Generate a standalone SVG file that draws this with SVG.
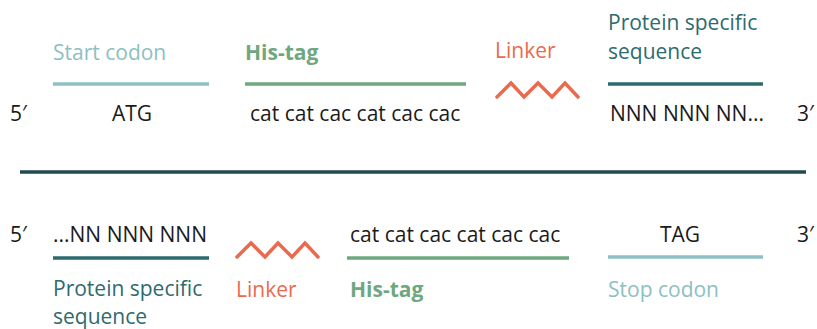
<svg xmlns="http://www.w3.org/2000/svg" width="817" height="329" viewBox="0 0 817 329">
<style>
text{font-family:"Open Sans","Noto Sans",sans-serif;font-size:21px}
.seq{fill:#1a1a1a}
.lt{fill:#8cc0c3}
.gr{fill:#6fa77f;font-weight:bold}
.or{fill:#ea6a4e}
.dk{fill:#2d6b6e}
.bar{stroke-width:3.5;fill:none}
.zz{stroke:#ea6a4e;stroke-width:3.5;fill:none;stroke-linejoin:miter;stroke-linecap:round}
</style>
<rect width="817" height="329" fill="#ffffff"/>
<g id="ends">
<text class="seq" x="10" y="121">5′</text>
<text class="seq" x="797" y="121">3′</text>
<text class="seq" x="10" y="242">5′</text>
<text class="seq" x="797" y="242">3′</text>
</g>
<g id="connectors">
<line class="bar" x1="20" y1="172" x2="806" y2="172" stroke="#1f4a52" stroke-width="4"/>
</g>
<g id="start-codon">
<text class="lt" x="53" y="60">Start codon</text>
<line class="bar" x1="53" y1="84" x2="209" y2="84" stroke="#8cc0c3"/>
<text class="seq" x="132" y="121" text-anchor="middle">ATG</text>
</g>
<g id="his-tag-top">
<text class="gr" x="245" y="60">His-tag</text>
<line class="bar" x1="245" y1="84" x2="466" y2="84" stroke="#6fa77f"/>
<text class="seq" x="250" y="121">cat cat cac cat cac cac</text>
</g>
<g id="linker-top">
<text class="or" x="495" y="58">Linker</text>
<polyline class="zz" points="497,97 511,83 524,97 538,83 552,97 565,83 578,97"/>
</g>
<g id="protein-top">
<text class="dk"><tspan x="608" y="30">Protein specific</tspan><tspan x="608" y="59">sequence</tspan></text>
<line class="bar" x1="608" y1="84" x2="763" y2="84" stroke="#2d6b6e"/>
<text class="seq" x="610" y="121">NNN NNN NN...</text>
</g>
<g id="protein-bottom">
<text class="seq" x="53" y="242">...NN NNN NNN</text>
<line class="bar" x1="53" y1="258" x2="209" y2="258" stroke="#2d6b6e"/>
<text class="dk"><tspan x="53" y="296">Protein specific</tspan><tspan x="53" y="324">sequence</tspan></text>
</g>
<g id="linker-bottom">
<polyline class="zz" points="237,257 251,243 265,257 278,243 292,257 305,243 318,257"/>
<text class="or" x="236" y="297">Linker</text>
</g>
<g id="his-tag-bottom">
<text class="seq" x="350" y="242">cat cat cac cat cac cac</text>
<line class="bar" x1="347" y1="258" x2="569" y2="258" stroke="#6fa77f"/>
<text class="gr" x="350" y="297">His-tag</text>
</g>
<g id="stop-codon">
<text class="seq" x="680" y="242" text-anchor="middle">TAG</text>
<line class="bar" x1="608" y1="257" x2="763" y2="257" stroke="#8cc0c3"/>
<text class="lt" x="608" y="297">Stop codon</text>
</g>
</svg>
